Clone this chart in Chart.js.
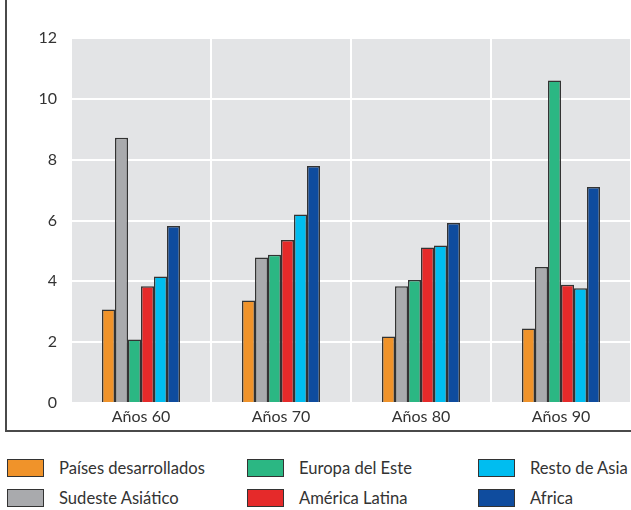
<!DOCTYPE html>
<html>
<head>
<meta charset="utf-8">
<script src="https://cdn.jsdelivr.net/npm/chart.js@4"></script>
<style>
  body { margin: 0; background: #fff; font-family: Lato, sans-serif; }
  #wrap { position: relative; width: 631px; height: 510px; overflow: hidden; }
  #frame {
    position: absolute; left: 5px; top: -2px; width: 640px; height: 432px;
    border-left: 2px solid #4a4a4a; border-bottom: 2px solid #4a4a4a;
  }
  #chartBox { position: absolute; left: 0; top: 0; width: 631px; height: 432px; }
  .leg { position: absolute; height: 19px; line-height: 19px; font-size: 16.6px; color: #333; white-space: nowrap; }
  .leg span.box {
    position: absolute; left: 0; top: 0; width: 35px; height: 16px;
    border: 1.5px solid #333;
  }
  .leg span.txt { position: absolute; top: 0; left: 52px; }
</style>
</head>
<body>
<div id="wrap">
  <div id="frame"></div>
  <div id="chartBox"><canvas id="chart"></canvas></div>
  <div id="legend"></div>
</div>
<script>
const categorias = ['Años 60', 'Años 70', 'Años 80', 'Años 90'];
const regiones = ['Países desarrollados', 'Sudeste Asiático', 'Europa del Este', 'América Latina', 'Resto de Asia', 'Africa'];
const colores = ['#f0932a', '#a9aaad', '#2bb783', '#e52a2a', '#00bdf0', '#0f4c9e'];

const paisesDesarrollados = [3.07, 3.37, 2.19, 2.45];
const sudesteAsiatico = [8.72, 4.78, 3.84, 4.47];
const europaEste = [2.09, 4.87, 4.04, 10.6];
const americaLatina = [3.84, 5.36, 5.11, 3.89];
const restoAsia = [4.16, 6.2, 5.18, 3.77];
const africa = [5.82, 7.79, 5.92, 7.1];

const yTicks = [0, 2, 4, 6, 8, 10, 12];

const series = [paisesDesarrollados, sudesteAsiatico, europaEste, americaLatina, restoAsia, africa];

// fondo gris del area del grafico
const fondoGris = {
  id: 'fondoGris',
  beforeDraw(chart) {
    const { ctx, chartArea } = chart;
    ctx.save();
    ctx.fillStyle = '#e3e4e6';
    ctx.fillRect(chartArea.left, chartArea.top, chartArea.right - chartArea.left, chartArea.bottom - chartArea.top);
    ctx.restore();
  }
};

const ctx = document.getElementById('chart').getContext('2d');
new Chart(ctx, {
  type: 'bar',
  data: {
    labels: categorias,
    datasets: regiones.map((nombre, i) => ({
      label: nombre,
      data: series[i],
      backgroundColor: colores[i],
      borderColor: '#333',
      borderWidth: 1.5,
      categoryPercentage: 0.557,
      barPercentage: 1,
    })),
  },
  options: {
    responsive: true,
    maintainAspectRatio: false,
    animation: false,
    layout: { padding: { top: 38, left: 0, right: 0, bottom: 0 } },
    plugins: {
      legend: { display: false },
      tooltip: { enabled: false },
    },
    scales: {
      x: {
        grid: { color: '#fff', lineWidth: 2, drawTicks: false, offset: true },
        border: { display: false },
        ticks: { color: '#333', font: { family: 'Lato', size: 16 }, padding: 4 },
        afterFit(scale) { scale.height = 29; },
      },
      y: {
        min: 0,
        max: 12,
        afterBuildTicks(scale) { scale.ticks = yTicks.map(v => ({ value: v })); },
        grid: { color: '#fff', lineWidth: 2, drawTicks: false },
        border: { display: false },
        ticks: { color: '#333', font: { family: 'Lato', size: 16 }, padding: 14 },
        afterFit(scale) { scale.width = 71; },
      },
    },
  },
  plugins: [fondoGris],
});

// leyenda
const legendPos = [
  [7, 459], [7, 489],
  [247, 459], [247, 489],
  [478, 459], [478, 489],
];
const legend = document.getElementById('legend');
regiones.forEach((nombre, i) => {
  const item = document.createElement('div');
  item.className = 'leg';
  item.style.left = legendPos[i][0] + 'px';
  item.style.top = legendPos[i][1] + 'px';
  item.innerHTML = `<span class="box" style="background:${colores[i]}"></span><span class="txt">${nombre}</span>`;
  legend.appendChild(item);
});
</script>
</body>
</html>
